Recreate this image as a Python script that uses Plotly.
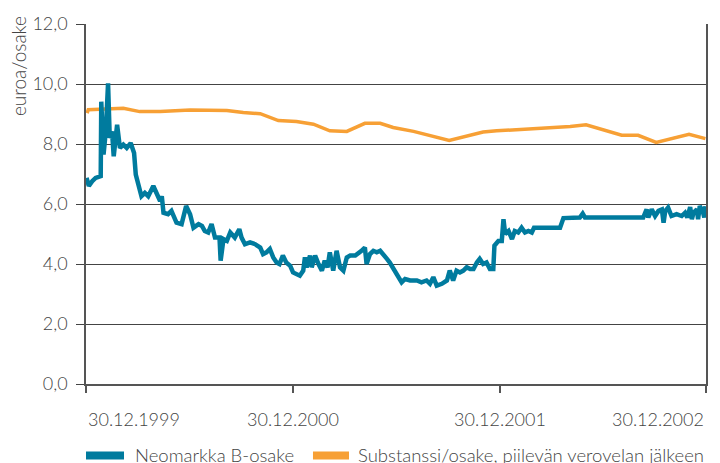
import pandas as pd
import plotly.graph_objects as go

# ---------------- data ----------------
start_date = "1999-12-30"

neomarkka_name = "Neomarkka B-osake"
substanssi_name = "Substanssi/osake, piilevän verovelan jälkeen"

# days since 30.12.1999, share price (euro)
neomarkka_days = [
    1, 5, 11, 17, 26, 27, 31, 35, 39, 42, 46, 49, 55, 60, 66, 72, 79, 85, 88, 90,
    95, 98, 104, 110, 119, 125, 131, 134, 137, 145, 151, 160, 169, 177, 184, 190, 199, 205, 210, 216,
    222, 228, 236, 238, 243, 249, 255, 263, 271, 275, 281, 290, 299, 308, 313, 319, 325, 331, 337, 342,
    348, 354, 361, 366, 372, 378, 384, 387, 390, 396, 399, 405, 411, 417, 422, 427, 431, 437, 443, 449,
    455, 461, 467, 476, 487, 493, 496, 502, 508, 514, 520, 526, 532, 537, 546, 552, 558, 564, 573, 585,
    593, 602, 608, 614, 620, 629, 638, 643, 649, 655, 661, 667, 673, 679, 685, 691, 696, 702, 708, 714,
    720, 722, 729, 735, 738, 741, 747, 753, 758, 764, 770, 776, 782, 788, 792, 838, 844, 873, 878, 882,
    985, 991, 994, 1000, 1006, 1012, 1018, 1021, 1024, 1029, 1035, 1044, 1053, 1059, 1063, 1068, 1071, 1074, 1080, 1082,
    1085, 1090, 1093, 1095,
]
neomarkka_values = [
    6.87, 6.60, 6.76, 6.87, 6.93, 9.41, 7.65, 8.42, 10.02, 8.20, 8.42, 7.59, 8.64, 7.87, 7.98, 7.87, 8.03, 7.70, 6.98, 6.82,
    6.54, 6.26, 6.37, 6.26, 6.60, 6.32, 6.10, 6.26, 5.71, 5.66, 5.77, 5.38, 5.33, 5.93, 5.66, 5.21, 5.33, 5.27, 5.10, 5.05,
    5.33, 4.88, 4.88, 4.11, 4.83, 4.77, 5.05, 4.88, 5.16, 4.88, 4.66, 4.72, 4.66, 4.55, 4.33, 4.39, 4.50, 4.22, 4.05, 4.00,
    4.28, 4.05, 3.94, 3.72, 3.67, 3.61, 3.78, 4.22, 3.89, 4.28, 3.89, 4.28, 4.00, 3.78, 4.11, 3.89, 4.39, 3.78, 4.44, 3.89,
    3.78, 4.22, 4.28, 4.28, 4.44, 4.55, 4.00, 4.33, 4.44, 4.39, 4.44, 4.33, 4.17, 4.05, 3.78, 3.56, 3.39, 3.50, 3.45, 3.45,
    3.39, 3.45, 3.34, 3.56, 3.28, 3.34, 3.45, 3.78, 3.45, 3.78, 3.72, 3.78, 3.89, 3.83, 3.83, 4.05, 4.17, 4.00, 4.05, 3.83,
    3.83, 4.61, 4.77, 4.77, 5.49, 5.00, 5.10, 4.83, 5.10, 5.05, 5.21, 5.05, 5.10, 5.05, 5.21, 5.21, 5.53, 5.55, 5.68, 5.55,
    5.55, 5.82, 5.55, 5.82, 5.60, 5.77, 5.82, 5.38, 5.77, 5.88, 5.60, 5.66, 5.60, 5.71, 5.55, 5.90, 5.49, 5.71, 5.82, 5.49,
    5.93, 5.77, 5.55, 5.93,
]

# days since 30.12.1999, net asset value per share after deferred tax (euro)
substanssi_days = [
    2, 4, 66, 95, 131, 184, 249, 278, 308, 340, 372, 402, 431, 461, 493, 520, 543, 579, 642, 702,
    726, 856, 884, 947, 976, 1008, 1066, 1095,
]
substanssi_values = [
    9.03, 9.14, 9.19, 9.08, 9.08, 9.13, 9.12, 9.05, 9.01, 8.78, 8.75, 8.66, 8.44, 8.42, 8.69, 8.69, 8.55, 8.42, 8.12, 8.40,
    8.44, 8.58, 8.64, 8.29, 8.29, 8.05, 8.32, 8.18,
]

y_tick_values = [0, 2, 4, 6, 8, 10, 12]
y_tick_labels = ["0,0", "2,0", "4,0", "6,0", "8,0", "10,0", "12,0"]
x_tick_dates = ["1999-12-30", "2000-12-30", "2001-12-30", "2002-12-30"]
x_tick_labels = ["30.12.1999", "30.12.2000", "30.12.2001", "30.12.2002"]
y_title = "euroa/osake"

# ---------------- figure ----------------
base = pd.Timestamp(start_date)
neo_dates = base + pd.to_timedelta(neomarkka_days, unit="D")
sub_dates = base + pd.to_timedelta(substanssi_days, unit="D")

BLUE = "#007b9e"
ORANGE = "#f7a035"
TEXT = "#444444"
FONT = "Lato"
WEIGHT = 300

fig = go.Figure()
fig.add_trace(go.Scatter(x=sub_dates, y=substanssi_values, mode="lines",
                         line=dict(color=ORANGE, width=3.5), name=substanssi_name,
                         showlegend=False))
fig.add_trace(go.Scatter(x=neo_dates, y=neomarkka_values, mode="lines",
                         line=dict(color=BLUE, width=4.5), name=neomarkka_name,
                         showlegend=False))

fig.update_layout(
    width=720, height=463,
    margin=dict(l=86, r=14, t=22, b=79),
    paper_bgcolor="white", plot_bgcolor="white",
    font=dict(family=FONT, size=18, color=TEXT, weight=WEIGHT),
)
fig.update_xaxes(
    type="date", range=[x_tick_dates[0], x_tick_dates[-1]],
    showgrid=False, zeroline=False,
    showline=True, linecolor="#555", linewidth=1.5,
    ticks="outside", ticklen=7, tickcolor="#555", tickwidth=1.5,
    tickvals=x_tick_dates, showticklabels=False,
)
fig.update_yaxes(
    range=[0, 12], tickvals=y_tick_values, ticktext=y_tick_labels,
    showgrid=True, gridcolor="#444", gridwidth=1.3, zeroline=False,
    showline=True, linecolor="#555", linewidth=1.5, mirror=True,
    ticks="outside", ticklen=8, tickcolor="#444", tickwidth=1.3,
    ticklabelstandoff=5,
    tickfont=dict(family=FONT, size=18, color=TEXT, weight=WEIGHT),
)

# x tick labels (first left-aligned, last right-aligned)
anchors = ["left", "center", "center", "right"]
for d, lab, a in zip(x_tick_dates, x_tick_labels, anchors):
    fig.add_annotation(x=d, xref="x", y=-0.0967, yref="paper", text=lab,
                       showarrow=False, xanchor=a, yanchor="middle",
                       font=dict(family=FONT, size=18, color=TEXT, weight=WEIGHT))

# y-axis title
fig.add_annotation(x=-0.1097, xref="paper", y=1.0276, yref="paper", text=y_title,
                   textangle=-90, showarrow=False, xanchor="center", yanchor="top",
                   font=dict(family=FONT, size=19, color=TEXT, weight=WEIGHT))

# legend (manual)
legend_items = [(neomarkka_name, BLUE, 0.0, 0.0613, 0.0753),
                (substanssi_name, ORANGE, 0.3661, 0.4242, 0.4355)]
for name, col, x0, x1, xt in legend_items:
    fig.add_shape(type="rect", xref="paper", yref="paper", x0=x0, x1=x1,
                  y0=-0.1878, y1=-0.2099, fillcolor=col, line=dict(width=0))
    fig.add_annotation(x=xt, xref="paper", y=-0.1961, yref="paper", text=name,
                       showarrow=False, xanchor="left", yanchor="middle",
                       font=dict(family=FONT, size=18.5, color=TEXT, weight=WEIGHT))

fig.write_html("out.html", config={"displayModeBar": False},
               post_script="document.body.style.margin='0px';")
